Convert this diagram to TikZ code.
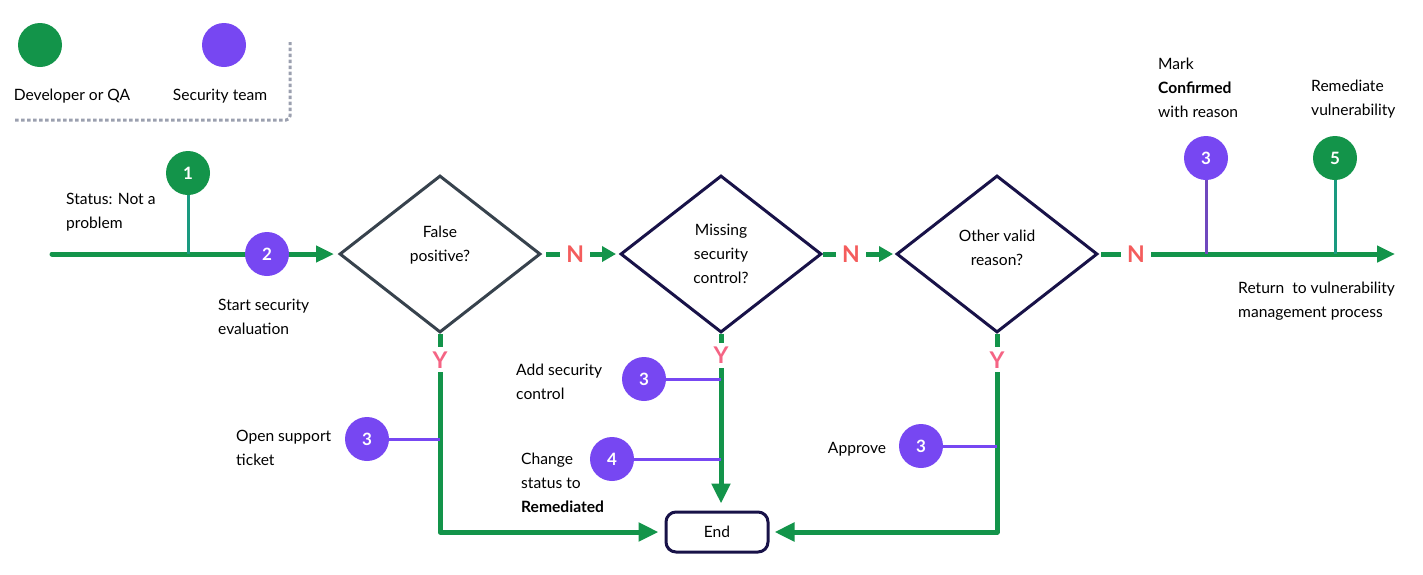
\documentclass[tikz,border=0pt]{standalone}
\usepackage{fontspec}
\setmainfont{Lato}
\usetikzlibrary{shapes.geometric,arrows.meta}
\definecolor{grn}{RGB}{19,148,74}
\definecolor{purp}{RGB}{119,71,242}
\definecolor{tealc}{RGB}{26,154,128}
\definecolor{purpdark}{RGB}{112,72,190}
\definecolor{slate}{RGB}{55,66,77}
\definecolor{navy}{RGB}{24,18,72}
\definecolor{nred}{RGB}{244,92,92}
\definecolor{ypink}{RGB}{245,100,132}
\definecolor{leggray}{RGB}{155,160,175}
\begin{document}
\begin{tikzpicture}[x=1pt,y=-1pt,
  every node/.style={font=\fontsize{15.6}{24}\selectfont},
  circ/.style={circle, minimum size=44pt, inner sep=0pt, text=white, font=\fontsize{17}{17}\selectfont\bfseries},
  gcirc/.style={circ, fill=grn},
  pcirc/.style={circ, fill=purp},
  dec/.style={diamond, draw, line width=3pt, minimum width=201pt, minimum height=157pt, inner sep=0pt, align=center},
  dtext/.style={align=center, inner sep=0pt},
  flow/.style={draw=grn, line width=5pt, line join=round},
  tip/.style={-{Triangle[length=18pt,width=16pt]}},
  smalltip/.style={-{Triangle[length=14pt,width=15pt]}},
  nlab/.style={fill=white, text=nred, inner xsep=6pt, inner ysep=1pt, font=\fontsize{23}{23}\selectfont\bfseries},
  ylab/.style={fill=white, text=ypink, inner xsep=1pt, inner ysep=4pt, font=\fontsize{23}{23}\selectfont\bfseries},
  pstem/.style={draw=purp, line width=3pt},
  pstemdark/.style={draw=purpdark, line width=3pt},
  tstem/.style={draw=tealc, line width=3pt},
  txt/.style={anchor=west, align=left, inner sep=0pt},
  legline/.style={draw=leggray, line width=3pt, dash pattern=on 3.5pt off 2.5pt, rounded corners=4pt}
]
\useasboundingbox (0,0) rectangle (1423,574);

% legend
\node[gcirc] (lg) at (40,45) {};
\node[pcirc] (lp) at (224,45) {};
\node[inner sep=0pt] (lgt) at (72,96) {Developer or QA};
\node[inner sep=0pt] (lpt) at (220,96) {Security team};
\coordinate (la) at (15,120);
\coordinate (lb) at (290,42);
\draw[legline] (la) -| (lb);

% decisions
\node[dec, draw=slate] (d1) at (440,254) {};
\node[dtext] (d1t) at (440,245) {False\\positive?};
\node[dec, draw=navy] (d2) at (721,254) {Missing\\security\\control?};
\node[dec, draw=navy] (d3) at (997,254) {};
\node[dtext] (d3t) at (997,248) {Other valid\\reason?};
\node[draw=navy, line width=3pt, rounded corners=10pt, minimum width=102pt, minimum height=40pt] (endn) at (717,532) {End};

% main line
\coordinate (start) at (52,254);
\coordinate (ret) at (1395,254);
\draw[flow, line cap=round, tip, shorten >=4pt] (start) -- (d1.west);
\node[gcirc] (c1) at (188,173) {1};
\draw[tstem] (c1.south) -- (c1.south |- start);
\node[pcirc] (c2) at (267,254) {2};

\draw[flow, smalltip, shorten <=4pt, shorten >=3pt] (d1.east) -- node[nlab, pos=0.43] {N} (d2.west);
\draw[flow, smalltip, shorten >=2pt] (d2.east) -- node[nlab, pos=0.39] {N} (d3.west);
\draw[flow, tip, shorten <=2pt] (d3.east) -- node[nlab, pos=0.125] {N} (ret);

\node[pcirc] (t3) at (1206,158) {3};
\draw[pstemdark] (t3.south) -- (t3.south |- ret);
\node[gcirc] (t5) at (1335,158) {5};
\draw[tstem] (t5.south) -- (t5.south |- ret);

% Y branches
\draw[flow, -{Triangle[length=20pt,width=18pt]}, shorten >=6pt] (d1.south) -- node[ylab, pos=0.13] {Y} (d1.south |- endn.west) -- (endn.west);
\draw[flow, -{Triangle[length=20pt,width=18pt]}, shorten >=7pt] (d2.south) -- node[ylab, pos=0.12] {Y} (d2.south |- endn.north);
\draw[flow, -{Triangle[length=20pt,width=18pt]}, shorten >=5pt] (d3.south) -- node[ylab, pos=0.13] {Y} (d3.south |- endn.east) -- (endn.east);

\node[pcirc] (s1) at (367,439) {3};
\draw[pstem] (s1.east) -- (s1.east -| d1.south);
\node[pcirc] (s2) at (644,379) {3};
\draw[pstem] (s2.east) -- (s2.east -| d2.south);
\node[pcirc] (s3) at (612,459) {4};
\draw[pstem] (s3.east) -- (s3.east -| d2.south);
\node[pcirc] (s4) at (921,446) {3};
\draw[pstem] (s4.east) -- (s4.east -| d3.south);

% labels
\node[txt] (l1) at (66,212) {Status: Not a\\problem};
\node[txt] (l2) at (218,317) {Start security\\evaluation};
\node[txt] (l3) at (1158,88) {Mark\\\textbf{Confirmed}\\with reason};
\node[txt] (l4) at (1311,99) {Remediate\\vulnerability};
\node[txt] (l5) at (1238,301) {Return \ to vulnerability\\management process};
\node[txt] (l6) at (236,448) {Open support\\ticket};
\node[txt] (l7) at (516,382) {Add security\\control};
\node[txt] (l8) at (521,483) {Change\\status to\\\textbf{Remediated}};
\node[inner sep=0pt] (l9) at (857,449) {Approve};
\end{tikzpicture}
\end{document}
